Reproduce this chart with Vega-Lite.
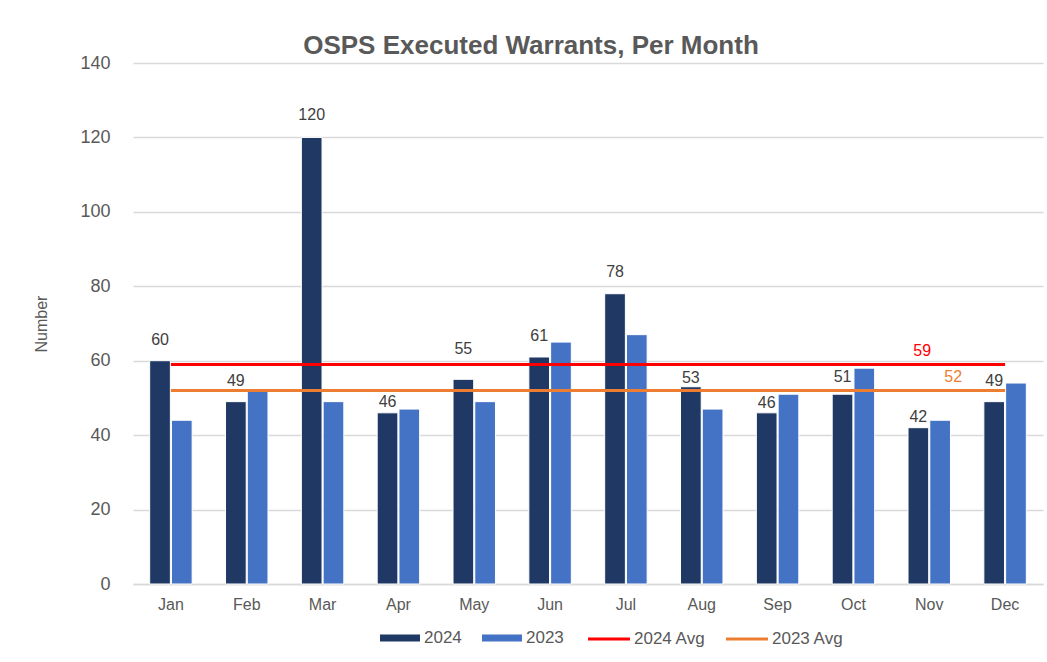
{
  "$schema": "https://vega.github.io/schema/vega-lite/v6.json",
  "autosize": {"type": "none"},
  "width": 910,
  "height": 521,
  "padding": {"left": 133, "top": 63, "right": 4, "bottom": 78},
  "background": "white",
  "title": {
    "text": "OSPS Executed Warrants, Per Month",
    "font": "Liberation Sans",
    "fontSize": 26,
    "fontWeight": "bold",
    "color": "#595959",
    "dx": -57,
    "offset": -5
  },
  "config": {
    "font": "Liberation Sans",
    "view": {"stroke": null},
    "axis": {"labelColor": "#595959", "titleColor": "#595959"}
  },
  "datasets": {
    "bars": [
      {"month": "Jan", "series": "2024", "value": 60},
      {"month": "Jan", "series": "2023", "value": 44},
      {"month": "Feb", "series": "2024", "value": 49},
      {"month": "Feb", "series": "2023", "value": 52},
      {"month": "Mar", "series": "2024", "value": 120},
      {"month": "Mar", "series": "2023", "value": 49},
      {"month": "Apr", "series": "2024", "value": 46},
      {"month": "Apr", "series": "2023", "value": 47},
      {"month": "May", "series": "2024", "value": 55},
      {"month": "May", "series": "2023", "value": 49},
      {"month": "Jun", "series": "2024", "value": 61},
      {"month": "Jun", "series": "2023", "value": 65},
      {"month": "Jul", "series": "2024", "value": 78},
      {"month": "Jul", "series": "2023", "value": 67},
      {"month": "Aug", "series": "2024", "value": 53},
      {"month": "Aug", "series": "2023", "value": 47},
      {"month": "Sep", "series": "2024", "value": 46},
      {"month": "Sep", "series": "2023", "value": 51},
      {"month": "Oct", "series": "2024", "value": 51},
      {"month": "Oct", "series": "2023", "value": 58},
      {"month": "Nov", "series": "2024", "value": 42},
      {"month": "Nov", "series": "2023", "value": 44},
      {"month": "Dec", "series": "2024", "value": 49},
      {"month": "Dec", "series": "2023", "value": 54}
    ],
    "avgs": [
      {"series": "2024 Avg", "start": "Jan", "end": "Dec", "labelMonth": "Nov", "value": 59},
      {"series": "2023 Avg", "start": "Jan", "end": "Dec", "labelMonth": "Nov", "value": 52}
    ]
  },
  "encoding": {
    "y": {
      "field": "value",
      "type": "quantitative",
      "scale": {"domain": [0, 140], "nice": false},
      "axis": {
        "title": "Number",
        "titleFontSize": 16,
        "titleFontWeight": "normal",
        "titlePadding": 30,
        "labelFontSize": 18,
        "labelPadding": 23,
        "values": [0, 20, 40, 60, 80, 100, 120, 140],
        "labelOverlap": false,
        "domain": false,
        "ticks": false,
        "gridColor": "#d9d9d9",
        "gridWidth": 1.5
      }
    }
  },
  "layer": [
    {
      "data": {"name": "bars"},
      "mark": {"type": "bar", "stroke": "white", "strokeWidth": 1},
      "encoding": {
        "x": {
          "field": "month",
          "type": "nominal",
          "scale": {"domain": ["Jan", "Feb", "Mar", "Apr", "May", "Jun", "Jul", "Aug", "Sep", "Oct", "Nov", "Dec"], "paddingInner": 0.44, "paddingOuter": 0.22},
          "axis": {"title": null, "labelAngle": 0, "labelFontSize": 16, "labelPadding": 12, "ticks": false, "domainColor": "#d9d9d9", "domainWidth": 1.5}
        },
        "xOffset": {"field": "series", "type": "nominal", "scale": {"domain": ["2024", "2023"], "paddingInner": 0.05}},
        "color": {
          "field": "series",
          "type": "nominal",
          "scale": {"domain": ["2024", "2023"], "range": ["#203864", "#4472c4"]},
          "legend": {
            "title": null,
            "orient": "none",
            "legendX": 247,
            "legendY": 555,
            "direction": "horizontal",
            "labelFontSize": 17,
            "labelColor": "#595959",
            "symbolSize": 1600,
            "symbolType": "M-1,-0.18H1V0.18H-1Z",
            "symbolStrokeWidth": 0,
            "columnPadding": 20,
            "symbolOffset": 0,
            "labelOffset": 4
          }
        }
      }
    },
    {
      "data": {"name": "bars"},
      "transform": [{"filter": "datum.series === '2024'"}],
      "mark": {
        "type": "text",
        "baseline": "middle",
        "dy": {"expr": "-({'Jan': 21, 'Feb': 21, 'Mar': 22, 'Apr': 11, 'May': 30, 'Jun': 21, 'Jul': 22, 'Aug': 9, 'Sep': 10, 'Oct': 17, 'Nov': 11, 'Dec': 21}[datum.month] || 11)"},
        "fontSize": 16,
        "color": "#404040"
      },
      "encoding": {
        "x": {"field": "month", "type": "nominal"},
        "xOffset": {"field": "series", "type": "nominal"},
        "text": {"field": "value", "type": "quantitative"}
      }
    },
    {
      "data": {"name": "avgs"},
      "mark": {"type": "rule", "strokeWidth": 3},
      "encoding": {
        "x": {"field": "start", "type": "nominal"},
        "x2": {"field": "end"},
        "stroke": {
          "field": "series",
          "type": "nominal",
          "scale": {"domain": ["2024 Avg", "2023 Avg"], "range": ["#ff0000", "#ed7d31"]},
          "legend": {
            "title": null,
            "orient": "none",
            "legendX": 455,
            "legendY": 555,
            "direction": "horizontal",
            "labelFontSize": 17,
            "labelColor": "#595959",
            "symbolSize": 1764,
            "symbolType": "M-1,-0.07H1V0.07H-1Z",
            "symbolStrokeWidth": 0,
            "columnPadding": 20,
            "symbolOffset": 0,
            "labelOffset": 4,
            "encode": {
              "symbols": {
                "update": {
                  "fill": {"scale": "stroke", "field": "value"},
                  "strokeWidth": {"value": 0}
                }
              }
            }
          }
        }
      }
    },
    {
      "data": {"name": "avgs"},
      "transform": [{"filter": "datum.series === '2024 Avg'"}],
      "mark": {"type": "text", "baseline": "bottom", "dy": -5, "dx": -7, "fontSize": 16, "color": "#ff0000"},
      "encoding": {
        "x": {"field": "labelMonth", "type": "nominal"},
        "text": {"field": "value", "type": "quantitative"}
      }
    },
    {
      "data": {"name": "avgs"},
      "transform": [{"filter": "datum.series === '2023 Avg'"}],
      "mark": {"type": "text", "baseline": "bottom", "dy": -5, "dx": 24, "fontSize": 16, "color": "#ed7d31"},
      "encoding": {
        "x": {"field": "labelMonth", "type": "nominal"},
        "text": {"field": "value", "type": "quantitative"}
      }
    }
  ]
}
